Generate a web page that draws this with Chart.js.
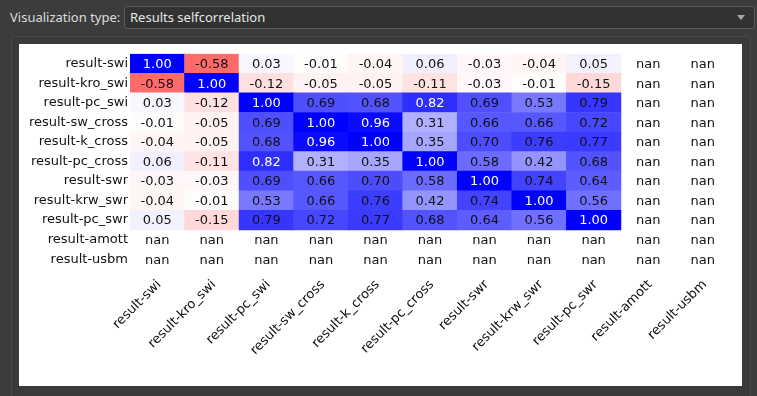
<!DOCTYPE html>
<html>
<head>
<meta charset="utf-8">
<script src="https://cdn.jsdelivr.net/npm/chart.js@4/dist/chart.umd.min.js"></script>
<style>
  html, body { margin: 0; padding: 0; }
  body { width: 757px; height: 396px; background: #3c3c3c; position: relative; overflow: hidden;
         font-family: "Noto Sans", sans-serif; }
  #lbl { position: absolute; left: 10px; top: 8px; font-size: 13px; color: #dcdcdc; }
  #combo { position: absolute; left: 124px; top: 6px; width: 624px; height: 21px; background: #323232;
           border: 1px solid #5a5a5a; border-radius: 3px; color: #e6e6e6; font-size: 13px;
           line-height: 21px; padding-left: 5px; box-sizing: content-box; }
  #combo .arrow { position: absolute; right: 9px; top: 8px; width: 0; height: 0;
                  border-left: 4px solid transparent; border-right: 4px solid transparent;
                  border-top: 5px solid #a8a8a8; }
  #frame { position: absolute; left: 11px; top: 36px; width: 738px; height: 370px;
           border: 1px solid #484848; border-radius: 2px; background: #3a3a3a; }
  #plot { position: absolute; left: 19px; top: 44px; width: 723px; height: 342px; background: #fff; }
</style>
</head>
<body>
<div id="lbl">Visualization type:</div>
<div id="combo">Results selfcorrelation<span class="arrow"></span></div>
<div id="frame"></div>
<div id="plot"><canvas id="c" width="723" height="342"></canvas></div>
<script>
"use strict";

const NAMES = ["result-swi", "result-kro_swi", "result-pc_swi", "result-sw_cross", "result-k_cross",
               "result-pc_cross", "result-swr", "result-krw_swr", "result-pc_swr", "result-amott", "result-usbm"];

// correlation matrix, rows top -> bottom; null = nan
const CORR = [
  [ 1.00, -0.58,  0.03, -0.01, -0.04,  0.06, -0.03, -0.04,  0.05, null, null],
  [-0.58,  1.00, -0.12, -0.05, -0.05, -0.11, -0.03, -0.01, -0.15, null, null],
  [ 0.03, -0.12,  1.00,  0.69,  0.68,  0.82,  0.69,  0.53,  0.79, null, null],
  [-0.01, -0.05,  0.69,  1.00,  0.96,  0.31,  0.66,  0.66,  0.72, null, null],
  [-0.04, -0.05,  0.68,  0.96,  1.00,  0.35,  0.70,  0.76,  0.77, null, null],
  [ 0.06, -0.11,  0.82,  0.31,  0.35,  1.00,  0.58,  0.42,  0.68, null, null],
  [-0.03, -0.03,  0.69,  0.66,  0.70,  0.58,  1.00,  0.74,  0.64, null, null],
  [-0.04, -0.01,  0.53,  0.66,  0.76,  0.42,  0.74,  1.00,  0.56, null, null],
  [ 0.05, -0.15,  0.79,  0.72,  0.77,  0.68,  0.64,  0.56,  1.00, null, null],
  [ null,  null,  null,  null,  null,  null,  null,  null,  null, null, null],
  [ null,  null,  null,  null,  null,  null,  null,  null,  null, null, null],
];

// bwr reversed: +1 blue, 0 white, -1 red
const cellColor = (v) => {
  if (v == null) return "rgba(0,0,0,0)";
  if (v >= 0) { const c = Math.round(255 * (1 - v)); return `rgb(${c},${c},255)`; }
  const c = Math.round(255 * (1 + v)); return `rgb(255,${c},${c})`;
};

const FONT = { family: "'DejaVu Sans', sans-serif", size: 13 };
const N = NAMES.length;

// one stacked dataset per row, bottom row first
const datasets = CORR.map((row, i) => ({
  label: NAMES[i], rowIdx: i,
  data: row.map(() => 1),
  backgroundColor: row.map(cellColor),
  borderWidth: 0, barPercentage: 1, categoryPercentage: 1,
})).reverse();

const cellText = {
  id: "cellText",
  afterDatasetsDraw(chart) {
    const ctx = chart.ctx;
    ctx.save();
    ctx.font = `${FONT.size}px ${FONT.family}`;
    ctx.textAlign = "center"; ctx.textBaseline = "middle";
    chart.data.datasets.forEach((ds, di) => {
      const meta = chart.getDatasetMeta(di);
      meta.data.forEach((bar, j) => {
        const v = CORR[ds.rowIdx][j];
        ctx.fillStyle = v != null && Math.abs(v) > 0.8 ? "#fff" : "#111";
        const y = (bar.y + bar.base) / 2;
        ctx.fillText(v == null ? "nan" : v.toFixed(2), bar.x, y + 1);
      });
    });
    ctx.restore();
  },
};

new Chart(document.getElementById("c"), {
  type: "bar",
  data: { labels: NAMES, datasets },
  plugins: [cellText],
  options: {
    responsive: false, animation: false,
    layout: { padding: { top: 5, right: 12, left: 0, bottom: 0 } },
    plugins: { legend: { display: false }, tooltip: { enabled: false } },
    scales: {
      x: {
        stacked: true, offset: true,
        grid: { display: false, drawTicks: false }, border: { display: false },
        ticks: { font: FONT, color: "#111", minRotation: 45, maxRotation: 45, autoSkip: false,
                 padding: 8, labelOffset: 2 },
        afterFit: (s) => { s.height = 117; },
      },
      y: {
        stacked: true, min: 0, max: N,
        grid: { display: false, drawTicks: false }, border: { display: false },
        afterBuildTicks: (s) => { s.ticks = NAMES.map((_, i) => ({ value: N - 0.5 - i })); },
        ticks: { font: FONT, color: "#111", padding: 2, autoSkip: false,
                 callback: (v) => NAMES[Math.round(N - 0.5 - v)] },
        afterFit: (s) => { s.width = 111; },
      },
    },
  },
});
</script>
</body>
</html>
